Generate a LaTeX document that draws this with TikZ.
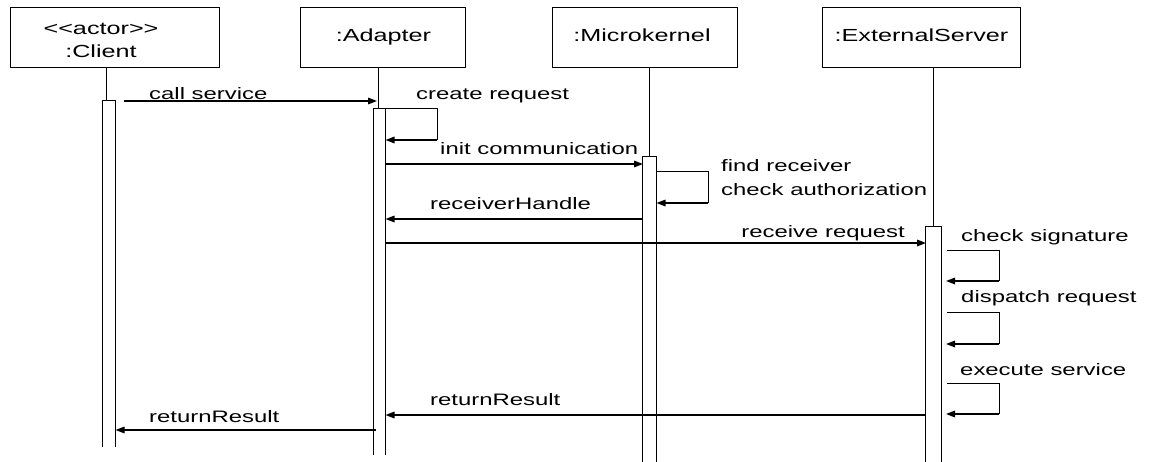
\documentclass[tikz,border=0pt]{standalone}
\usepackage{fontspec}
\setmainfont{Liberation Sans}[FakeStretch=1.44]
\usetikzlibrary{arrows.meta}
\begin{document}
\begin{tikzpicture}[x=1pt,y=-1pt,
  obj/.style={draw, line width=1pt, rectangle, inner sep=0pt},
  life/.style={line width=0.9pt},
  actbar/.style={fill=white, rectangle, inner sep=0pt},
  barside/.style={line width=1pt},
  msg/.style={line width=1.6pt, -{Triangle[length=9pt,width=6.5pt]}},
  loopline/.style={line width=1pt},
  lbl/.style={anchor=base west, inner sep=0pt, font=\fontsize{16.6}{18}\selectfont},
  olbl/.style={anchor=base, inner sep=0pt, font=\fontsize{17.5}{20}\selectfont}]
\useasboundingbox (0,0) rectangle (1149,462);

% object boxes
\node[obj, minimum width=209pt, minimum height=60pt] (client) at (114.5,38) {};
\node[obj, minimum width=165pt, minimum height=60pt] (adapter) at (382.5,38) {};
\node[obj, minimum width=185pt, minimum height=60pt] (kernel) at (644.5,38) {};
\node[obj, minimum width=198pt, minimum height=60pt] (server) at (921,38) {};
\node[olbl] (clientA) at (101,35) {<\kern0pt<actor>\kern0pt>};
\node[olbl] (clientB) at (101,58) {:Client};
\node[olbl] (adapterT) at (383.5,42) {:Adapter};
\node[olbl] (kernelT) at (642,42) {:Microkernel};
\node[olbl] (serverT) at (921.5,42) {:ExternalServer};

% lifelines
\coordinate (cl0) at (106,68);  \coordinate (cl1) at (106,101);
\coordinate (al0) at (378,68);  \coordinate (al1) at (378,109);
\coordinate (kl0) at (649,68);  \coordinate (kl1) at (649,157);
\coordinate (sl0) at (933,68);  \coordinate (sl1) at (933,227);
\draw[life] (cl0) -- (cl1);
\draw[life] (al0) -- (al1);
\draw[life] (kl0) -- (kl1);
\draw[life] (sl0) -- (sl1);

% activation bars (open at the bottom)
\node[actbar, minimum width=12pt, minimum height=346pt] (cbar) at (109,274) {};
\node[actbar, minimum width=11pt, minimum height=346pt] (abar) at (379.5,282) {};
\node[actbar, minimum width=13pt, minimum height=313pt] (kbar) at (649.5,313.5) {};
\node[actbar, minimum width=15pt, minimum height=243pt] (sbar) at (933.5,348.5) {};
\foreach \b in {cbar,abar,kbar,sbar}
  \draw[barside] (\b.south west) -- (\b.north west) -- (\b.north east) -- (\b.south east);

% call service
\coordinate (m1a) at (124,101); \coordinate (m1b) at (377,101);
\draw[msg] (m1a) -- (m1b);
\node[lbl] (t1) at (149,99.5) {call service};

% create request (self)
\coordinate (m2a) at (385,109); \coordinate (m2b) at (437,109);
\coordinate (m2c) at (437,140); \coordinate (m2d) at (385.5,140);
\draw[loopline] (m2a) -- (m2b) -- (m2c);
\draw[msg] (m2c) -- (m2d);
\node[lbl] (t2) at (416,100) {create request};

% init communication
\coordinate (m3a) at (385,164); \coordinate (m3b) at (643,164);
\draw[msg] (m3a) -- (m3b);
\node[lbl] (t3) at (440,155) {init communication};

% find receiver (self)
\coordinate (m4a) at (656,172); \coordinate (m4b) at (708,172);
\coordinate (m4c) at (708,203); \coordinate (m4d) at (656.5,203);
\draw[loopline] (m4a) -- (m4b) -- (m4c);
\draw[msg] (m4c) -- (m4d);
\node[lbl] (t4a) at (721,172) {find receiver};
\node[lbl] (t4b) at (721,196) {check authorization};

% receiverHandle
\coordinate (m5a) at (643,219); \coordinate (m5b) at (385.5,219);
\draw[msg] (m5a) -- (m5b);
\node[lbl] (t5) at (430,210) {receiverHandle};

% receive request
\coordinate (m6a) at (385,243); \coordinate (m6b) at (926,243);
\draw[msg] (m6a) -- (m6b);
\node[lbl, anchor=base east] (t6) at (905,238) {receive request};

% check signature
\coordinate (m7a) at (947,251); \coordinate (m7b) at (999,251);
\coordinate (m7c) at (999,281); \coordinate (m7d) at (946,281);
\draw[loopline] (m7a) -- (m7b) -- (m7c);
\draw[msg] (m7c) -- (m7d);
\node[lbl] (t7) at (961,242) {check signature};

% dispatch request
\coordinate (m8a) at (947,313); \coordinate (m8b) at (999,313);
\coordinate (m8c) at (999,344); \coordinate (m8d) at (946,344);
\draw[loopline] (m8a) -- (m8b) -- (m8c);
\draw[msg] (m8c) -- (m8d);
\node[lbl] (t8) at (961,303) {dispatch request};

% execute service
\coordinate (m9a) at (947,383); \coordinate (m9b) at (999,383);
\coordinate (m9c) at (999,414); \coordinate (m9d) at (946,414);
\draw[loopline] (m9a) -- (m9b) -- (m9c);
\draw[msg] (m9c) -- (m9d);
\node[lbl] (t9) at (960,375) {execute service};

% returnResult (server -> adapter)
\coordinate (m10a) at (926,415); \coordinate (m10b) at (385.5,415);
\draw[msg] (m10a) -- (m10b);
\node[lbl] (t10) at (430,406) {returnResult};

% returnResult (adapter -> client)
\coordinate (m11a) at (376,430); \coordinate (m11b) at (115.5,430);
\draw[msg] (m11a) -- (m11b);
\node[lbl] (t11) at (149,422) {returnResult};
\end{tikzpicture}
\end{document}
